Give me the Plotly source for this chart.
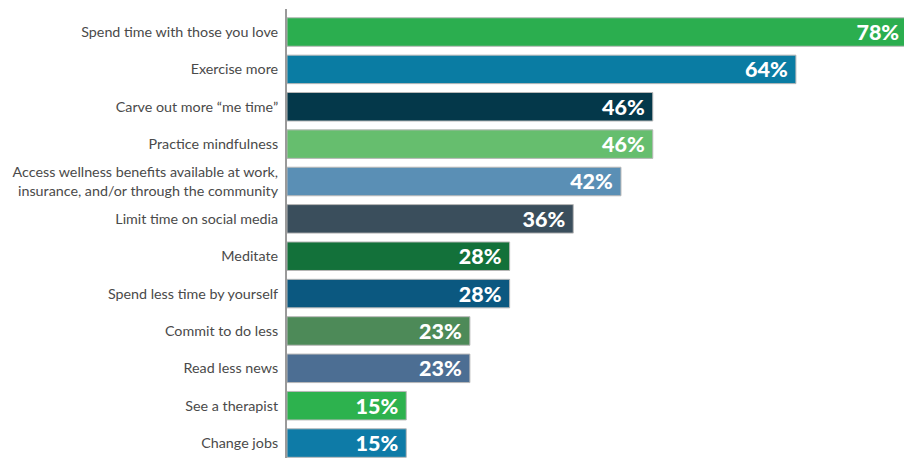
import plotly.graph_objects as go

categories = [
    "Spend time with those you love",
    "Exercise more",
    "Carve out more \u201cme time\u201d",
    "Practice mindfulness",
    "Access wellness benefits available at work,<br>insurance, and/or through the community",
    "Limit time on social media",
    "Meditate",
    "Spend less time by yourself",
    "Commit to do less",
    "Read less news",
    "See a therapist",
    "Change jobs",
]
values = [78, 64, 46, 46, 42, 36, 28, 28, 23, 23, 15, 15]
colors = [
    "#2BAE4F", "#0A7CA3", "#04384A", "#66BE6E", "#5A8FB5", "#3A4E5C",
    "#13713A", "#0B5880", "#4D8A58", "#4C6E93", "#2DB24E", "#0E7BA7",
]
labels = [f"{v}%\u00a0" for v in values]

fig = go.Figure(
    go.Bar(
        x=values,
        y=categories,
        orientation="h",
        marker=dict(color=colors, line=dict(color="#b8b8b8", width=1)),
        text=labels,
        textposition="inside",
        insidetextanchor="end",
        textangle=0,
        textfont=dict(family="Lato", size=21.5, color="white", weight=900),
        cliponaxis=False,
    )
)

fig.update_layout(
    width=912,
    height=458,
    margin=dict(l=279, r=8, t=1, b=5, autoexpand=False),
    paper_bgcolor="white",
    plot_bgcolor="white",
    bargap=0.237,
    showlegend=False,
    uniformtext=dict(minsize=21, mode="show"),
)
fig.update_xaxes(range=[0, 78.6], visible=False, showgrid=False, zeroline=False,
                 automargin=False)
fig.update_yaxes(
    autorange=False,
    range=[11.48, -0.616],
    automargin=False,
    showgrid=False,
    showline=True,
    linecolor="#9a9a9a",
    linewidth=2,
    ticks="",
    ticklabelstandoff=4,
    tickfont=dict(family="Lato", size=14.3, color="#4a4a4a"),
)

fig.write_html("out.html")
